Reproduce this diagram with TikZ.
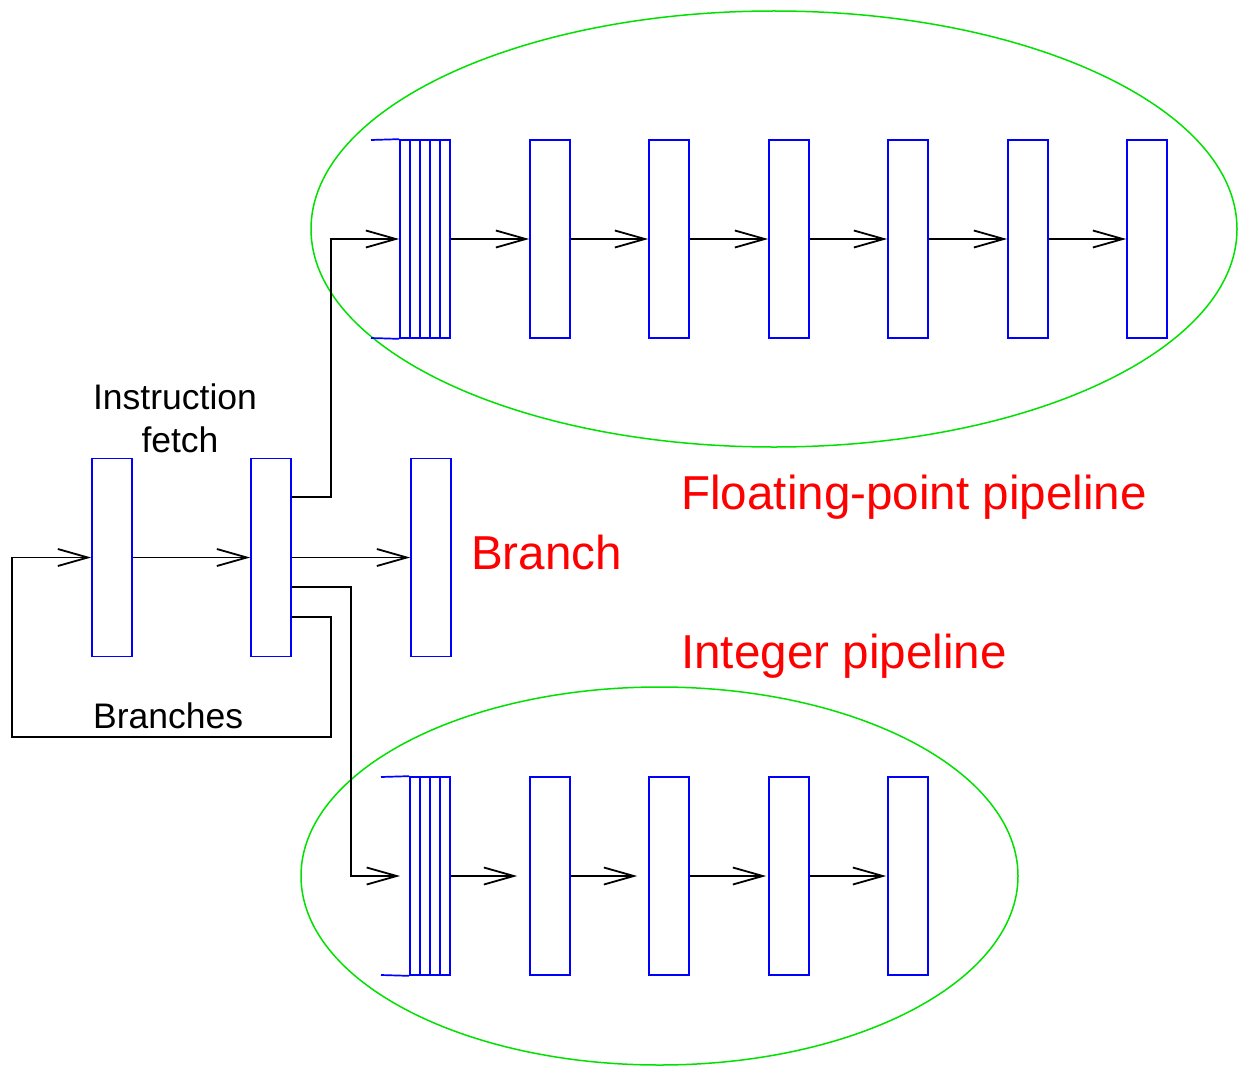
\documentclass[tikz,border=0pt]{standalone}
\usepackage{fontspec}
\setmainfont{Liberation Sans}
\usetikzlibrary{arrows.meta}
\definecolor{ringgreen}{RGB}{0,225,0}
\begin{document}
\begin{tikzpicture}[x=1pt,y=-1pt,
  stagebox/.style={draw=blue,line width=1.7pt,inner sep=0pt,minimum width=40pt,minimum height=198pt},
  queuebox/.style={draw=blue,line width=1.7pt,inner sep=0pt,minimum height=198pt},
  qline/.style={draw=blue,line width=1.7pt},
  conn/.style={draw=black,line width=1.8pt},
  arr/.style={conn,-{Straight Barb[length=30pt,width=17pt,line width=1.8pt]}},
  ring/.style={draw=ringgreen,line width=1.5pt},
  small/.style={font=\fontsize{35.5}{43}\selectfont,inner sep=0pt},
  big/.style={font=\fontsize{47.6}{56}\selectfont,text=red,inner sep=0pt}]
\useasboundingbox (0,0) rectangle (1247,1070);

% pipeline envelopes
\draw[ring] (774,229) ellipse [x radius=463, y radius=218];
\draw[ring] (659.5,876) ellipse [x radius=358.5, y radius=189];

% fetch / decode / branch stages
\node[stagebox] (b1) at (112,557.5) {};
\node[stagebox] (b2) at (271,557.5) {};
\node[stagebox] (b3) at (431,557.5) {};

% floating-point queue and stages
\node[queuebox,minimum width=50pt] (q1) at (425,239) {};
\foreach \x in {410,420,430,440} \draw[qline] (\x,140) -- (\x,338);
\draw[qline] (371,140) -- (q1.north west);
\draw[qline] (371,338) -- (q1.south west);
\foreach \i/\x in {1/550,2/669,3/789,4/908,5/1028,6/1147}
  \node[stagebox] (f\i) at (\x,239) {};

% integer queue and stages
\node[queuebox,minimum width=40pt] (q2) at (430,876) {};
\foreach \x in {420,430,440} \draw[qline] (\x,777) -- (\x,975);
\draw[qline] (381,777) -- (q2.north west);
\draw[qline] (381,975) -- (q2.south west);
\foreach \i/\x in {1/550,2/669,3/789,4/908}
  \node[stagebox] (n\i) at (\x,876) {};

% bend points
\coordinate (fpbend) at (331,239);
\coordinate (inbend) at (351,876);
\coordinate (fb1) at (331,737);
\coordinate (fb2) at (12,737);
\coordinate (inend) at (400,876);

% main flow
\draw[arr] (b1.east) -- (b2.west);
\draw[arr] (b2.east) -- (b3.west);
\draw[arr] (b2.east |- 0,617) -| (fb1) -- (fb2) |- (b1.west);
\draw[arr] (b2.east |- 0,497) -| (fpbend) -- (q1.west);
\draw[arr] (b2.east |- 0,587) -| (inbend) -- (inend);

% floating-point flow
\draw[arr] (q1.east) -- (f1.west);
\foreach \a/\b in {1/2,2/3,3/4,4/5,5/6} \draw[arr] (f\a.east) -- (f\b.west);

% integer flow
\draw[arr,shorten >=12pt] (q2.east) -- (n1.west);
\draw[arr,shorten >=11pt] (n1.east) -- (n2.west);
\draw[arr,shorten >=2pt] (n2.east) -- (n3.west);
\draw[arr,shorten >=1pt] (n3.east) -- (n4.west);

% labels
\node[small,anchor=base] (lif1) at (175,409) {Instruction};
\node[small,anchor=base] (lif2) at (180,452) {fetch};
\node[small,anchor=base west] (lbr) at (93,728) {Branches};
\node[big,anchor=base west] (lbranch) at (471,569) {Branch};
\node[big,anchor=base west] (lfp) at (681,509) {Floating-point pipeline};
\node[big,anchor=base west] (lint) at (681,668) {Integer pipeline};
\end{tikzpicture}
\end{document}
